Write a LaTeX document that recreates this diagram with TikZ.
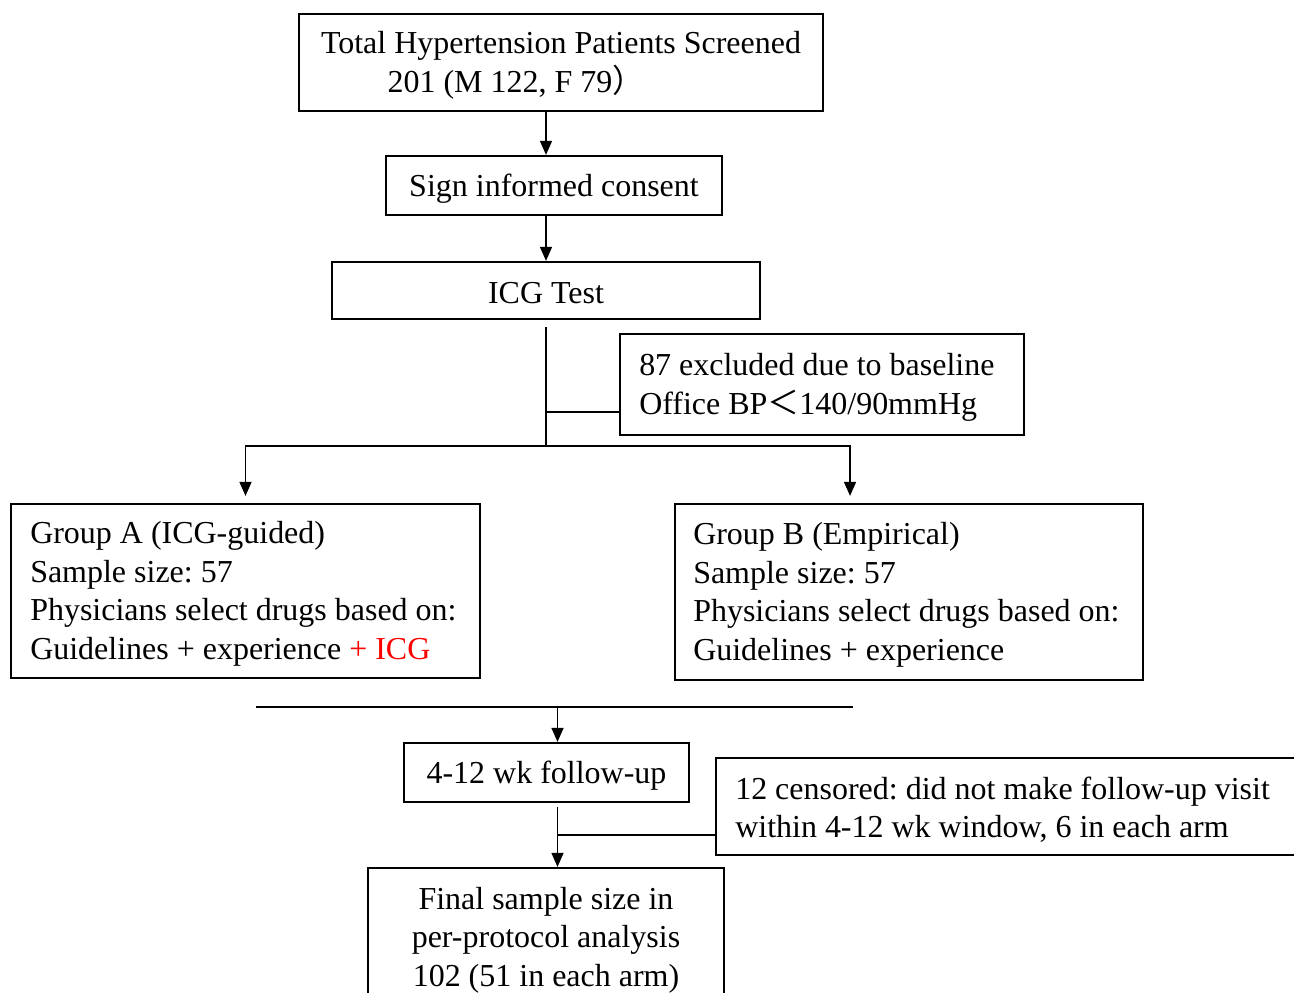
\documentclass[tikz,border=0pt]{standalone}
\usepackage{fontspec}
\setmainfont{Liberation Serif}
\newfontfamily\cjk{Noto Sans CJK SC}
\usetikzlibrary{arrows.meta}
\tikzset{
  box/.style={draw, line width=1.3pt, inner sep=0pt},
  txt/.style={inner sep=0pt, align=left, anchor=west, yshift=-0.06cm,
    font=\fontsize{18.2}{21.9}\selectfont\frenchspacing},
  ctxt/.style={txt, align=center, anchor=center},
  link/.style={line width=0.8pt},
  arr/.style={link, -{Triangle[length=0.28cm,width=0.24cm]}},
  merge/.style={line width=1.2pt},
}

\begin{document}
\begin{tikzpicture}[x=0.02cm,y=-0.02cm]
        \clip (0,0) rectangle (1294,992);
        \node[box, minimum width=10.48cm, minimum height=1.94cm] (screen) at (561,62.5) {};
        \node[ctxt] at (screen.center) {Total Hypertension Patients Screened\\201 (M 122, F 79{\cjk ）}\hspace*{1.8cm}};
        \node[box, minimum width=6.72cm, minimum height=1.18cm] (consent) at (554,185.5) {};
        \node[ctxt] at (consent.center) {Sign informed consent};
        \node[box, minimum width=8.56cm, minimum height=1.14cm] (icg) at (546,290.5) {};
        \node[ctxt] at (icg.center) {ICG Test};
        \node[box, minimum width=8.08cm, minimum height=2.02cm] (excl) at (822,384.5) {};
        \node[txt] at ([xshift=0.4cm]excl.west) {87 excluded due to baseline\\Office BP{\cjk ＜}140/90mmHg};
        \node[box, minimum width=9.38cm, minimum height=3.48cm] (grpA) at (245.5,591) {};
        \node[txt] at ([xshift=0.4cm]grpA.west) {Group A (ICG-guided)\\Sample size: 57\\Physicians select drugs based on:\\Guidelines + experience \textcolor{red}{+ ICG}};
        \node[box, minimum width=9.36cm, minimum height=3.52cm] (grpB) at (909,592) {};
        \node[txt] at ([xshift=0.38cm]grpB.west) {Group B (Empirical)\\Sample size: 57\\Physicians select drugs based on:\\Guidelines + experience};
        \node[box, minimum width=5.7cm, minimum height=1.18cm] (follow) at (546.5,772.5) {};
        \node[ctxt] at (follow.center) {4-12 wk follow-up};
        \node[box, minimum width=11.68cm, minimum height=1.94cm] (cens) at (1008,806.5) {};
        \node[txt] at ([xshift=0.4cm]cens.west) {12 censored: did not make follow-up visit\\within 4-12 wk window, 6 in each arm};
        \node[box, minimum width=7.12cm, minimum height=2.76cm] (final) at (546,937) {};
        \node[ctxt] at (final.center) {Final sample size in\\per-protocol analysis\\102 (51 in each arm)};

        % connectors
        \coordinate (axis) at (546,0);
        \coordinate (axisb) at (557.5,0);
        \coordinate (split) at (546,446);
        \coordinate (mergeL) at (256,707);
        \coordinate (mergeR) at (853,707);
        \draw[arr] (screen.south -| axis) -- (consent.north -| axis);
        \draw[arr] (consent.south -| axis) -- (icg.north -| axis);
        \draw[link] ([yshift=-0.14cm]icg.south) -- (split);
        \path ([yshift=-0.55cm]excl.west) coordinate (ex);
        \draw[link] (ex) -- (ex -| axis);
        \draw[arr] (split) -| ([yshift=0.14cm]grpA.north);
        \draw[arr] (split) -| ([xshift=-1.18cm,yshift=0.14cm]grpB.north);
        \draw[merge] (mergeL) -- (mergeR);
        \draw[arr] (mergeL -| axisb) -- (follow.north -| axisb);
        \path ([yshift=-0.08cm]follow.south) coordinate (fs);
        \draw[arr] (fs -| axisb) -- (final.north -| axisb);
        \path ([yshift=-0.57cm]cens.west) coordinate (cw);
        \draw[link] (cw) -- (cw -| axisb);
    \end{tikzpicture}
\end{document}
